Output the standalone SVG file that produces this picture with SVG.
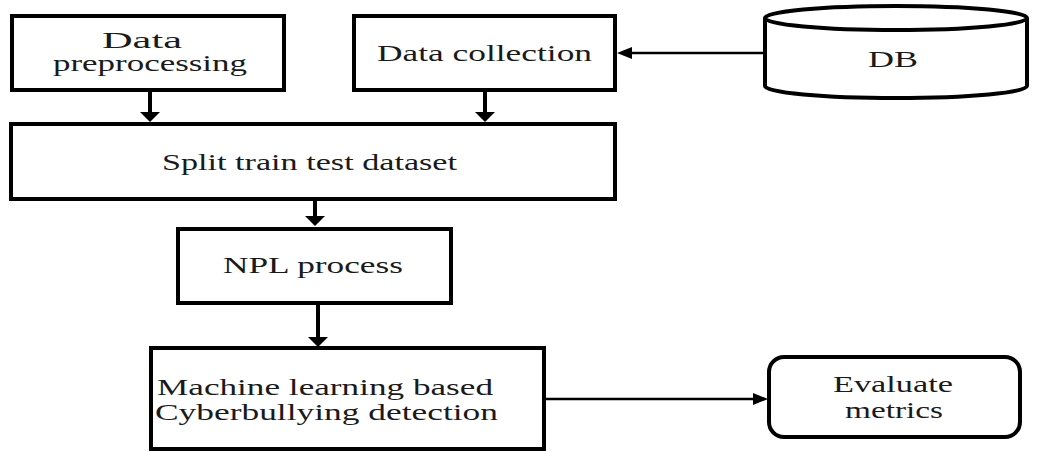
<svg xmlns="http://www.w3.org/2000/svg" width="1041" height="452" viewBox="0 0 1041 452">
<style>
.box{fill:#fff;stroke:#000;stroke-width:4}
.t{font-family:"Liberation Serif","DejaVu Serif","Times New Roman",serif;font-size:23px;fill:#1a1a1a;text-anchor:middle}
.thick{stroke:#000;stroke-width:4;fill:none}
.thin{stroke:#000;stroke-width:2.5;fill:none}
</style>
<defs>
<marker id="ahb" markerUnits="userSpaceOnUse" markerWidth="11" markerHeight="22" refX="0" refY="10" orient="auto" overflow="visible">
<path d="M0,0 L10,10 L0,20 Z" fill="#000"/>
</marker>
<marker id="ahs" markerUnits="userSpaceOnUse" markerWidth="16" markerHeight="12" refX="0" refY="6" orient="auto" overflow="visible">
<path d="M0,0 L15,6 L0,12 Z" fill="#000"/>
</marker>
</defs>
<g id="connectors">
<line class="thick" x1="150" y1="91" x2="150" y2="112" marker-end="url(#ahb)"/>
<line class="thick" x1="485" y1="91" x2="485" y2="112" marker-end="url(#ahb)"/>
<line class="thick" x1="315" y1="200" x2="315" y2="216" marker-end="url(#ahb)"/>
<line class="thick" x1="318" y1="304" x2="318" y2="337" marker-end="url(#ahb)"/>
<line class="thin" x1="765" y1="53" x2="632" y2="53" marker-end="url(#ahs)"/>
<line class="thin" x1="545" y1="399" x2="753" y2="399" marker-end="url(#ahs)"/>
</g>
<g id="data-preprocessing">
<rect class="box" x="12" y="16" width="272" height="74"/>
<text class="t" x="142" y="48" textLength="80" lengthAdjust="spacingAndGlyphs">Data</text>
<text class="t" x="150" y="71" textLength="194" lengthAdjust="spacingAndGlyphs">preprocessing</text>
</g>
<g id="data-collection">
<rect class="box" x="354" y="16" width="261" height="74"/>
<text class="t" x="484.5" y="61" textLength="215" lengthAdjust="spacingAndGlyphs">Data collection</text>
</g>
<g id="db">
<path class="box" d="M765,18 L765,86 A131,12 0 0 0 1027,86 L1027,18"/>
<ellipse class="box" cx="896" cy="18" rx="131" ry="12" stroke-width="3"/>
<text class="t" x="893" y="67" textLength="50" lengthAdjust="spacingAndGlyphs">DB</text>
</g>
<g id="split">
<rect class="box" x="11" y="124" width="604" height="75"/>
<text class="t" x="309.5" y="170" textLength="295" lengthAdjust="spacingAndGlyphs">Split train test dataset</text>
</g>
<g id="npl">
<rect class="box" x="178" y="229" width="273" height="74"/>
<text class="t" x="313" y="273" textLength="180" lengthAdjust="spacingAndGlyphs">NPL process</text>
</g>
<g id="ml">
<rect class="box" x="151" y="348" width="393" height="101"/>
<text class="t" x="325" y="395" textLength="336" lengthAdjust="spacingAndGlyphs">Machine learning based</text>
<text class="t" x="326.5" y="420" textLength="343" lengthAdjust="spacingAndGlyphs">Cyberbullying detection</text>
</g>
<g id="evaluate">
<rect class="box" x="769" y="357" width="251" height="80" rx="15" ry="15"/>
<text class="t" x="893" y="392" textLength="120" lengthAdjust="spacingAndGlyphs">Evaluate</text>
<text class="t" x="894" y="418" textLength="98" lengthAdjust="spacingAndGlyphs">metrics</text>
</g>
</svg>
